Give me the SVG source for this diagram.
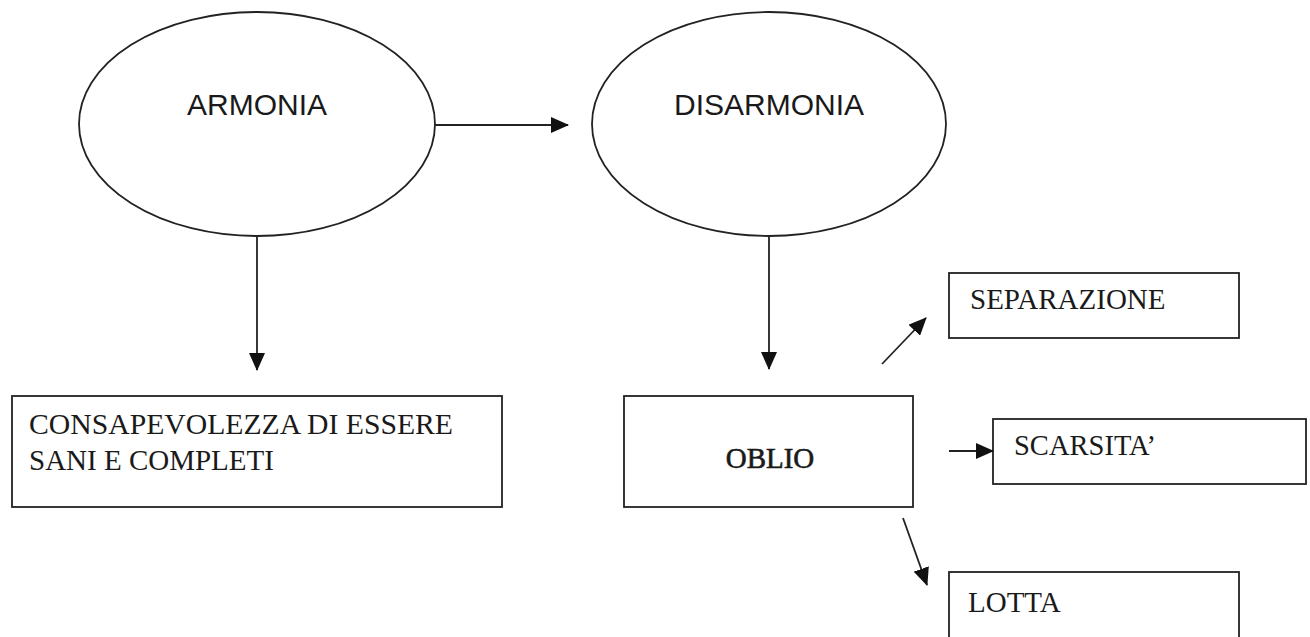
<svg xmlns="http://www.w3.org/2000/svg" width="1310" height="637" viewBox="0 0 1310 637">
<style>
.shape{fill:#fff;stroke:#222;stroke-width:1.8}
.sans{font-family:"Liberation Sans",Arial,sans-serif;font-size:30px;fill:#1a1a1a}
.serif{font-family:"Liberation Serif","Times New Roman",serif;font-size:29px;fill:#1a1a1a}
.conn{stroke:#222;stroke-width:1.8;fill:none;marker-end:url(#ah)}
</style>
<defs>
<marker id="ah" markerUnits="userSpaceOnUse" markerWidth="18" markerHeight="16" refX="17" refY="8" orient="auto">
<path d="M0,0 L18,8 L0,16 Z" fill="#111"/>
</marker>
</defs>
<rect width="1310" height="637" fill="#fff"/>
<g id="armonia">
<ellipse class="shape" cx="257" cy="124" rx="178" ry="112"/>
<text class="sans" x="257" y="115" text-anchor="middle">ARMONIA</text>
</g>
<g id="disarmonia">
<ellipse class="shape" cx="769" cy="124" rx="177" ry="112"/>
<text class="sans" x="769" y="115" text-anchor="middle">DISARMONIA</text>
</g>
<g id="consapevolezza">
<rect class="shape" x="12" y="396" width="490" height="111"/>
<text class="serif" x="29" y="434" textLength="424" lengthAdjust="spacingAndGlyphs">CONSAPEVOLEZZA DI ESSERE</text>
<text class="serif" x="29" y="470">SANI E COMPLETI</text>
</g>
<g id="oblio">
<rect class="shape" x="624" y="396" width="289" height="111"/>
<text class="serif" x="770" y="468" text-anchor="middle" stroke="#1a1a1a" stroke-width="0.6">OBLIO</text>
</g>
<g id="separazione">
<rect class="shape" x="949" y="273" width="290" height="65"/>
<text class="serif" x="970" y="309">SEPARAZIONE</text>
</g>
<g id="scarsita">
<rect class="shape" x="993" y="419" width="313" height="65"/>
<text class="serif" x="1014" y="455" textLength="142" lengthAdjust="spacingAndGlyphs">SCARSITA’</text>
</g>
<g id="lotta">
<rect class="shape" x="949" y="572" width="290" height="80"/>
<text class="serif" x="968" y="612">LOTTA</text>
</g>
<g id="connectors">
<line class="conn" x1="435" y1="125" x2="568" y2="125"/>
<line class="conn" x1="257" y1="236" x2="257" y2="370"/>
<line class="conn" x1="769" y1="236" x2="769" y2="369"/>
<line class="conn" x1="882" y1="364" x2="926" y2="318"/>
<line class="conn" x1="949" y1="451" x2="993" y2="451"/>
<line class="conn" x1="903" y1="518" x2="927" y2="585"/>
</g>
</svg>
